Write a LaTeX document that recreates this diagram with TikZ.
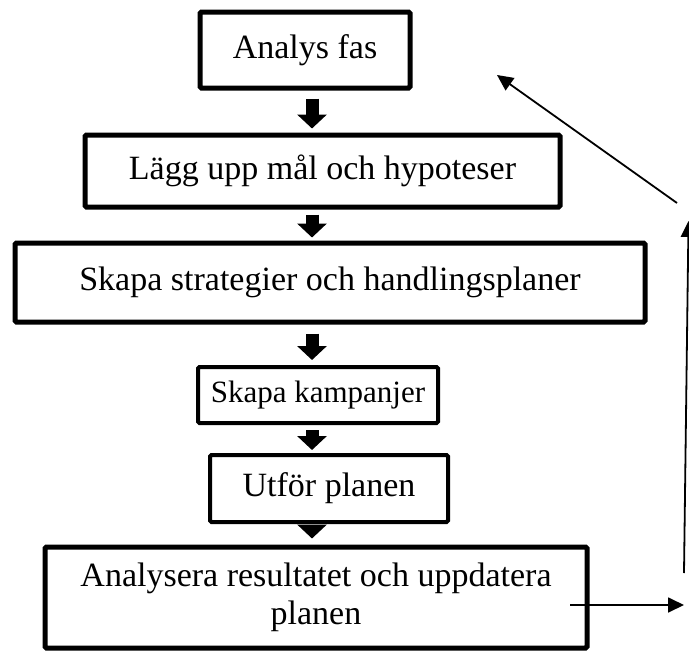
\documentclass[tikz,border=0pt]{standalone}
\usepackage{fontspec}
\setmainfont{Liberation Serif}
\usetikzlibrary{arrows.meta,calc}
\begin{document}
\begin{tikzpicture}[x=1pt,y=-1pt,
  box/.style={draw=black,line width=5pt,rounded corners=1.5pt,inner sep=0pt,align=center,
    font=\fontsize{34}{38}\selectfont},
  blockarrow/.style={line width=13pt,-{Triangle[length=14pt,width=29pt]}},
  thinarrow/.style={line width=1.8pt,-{Triangle[length=16pt,width=15pt]}}]
\useasboundingbox (0,0) rectangle (689,651);
\node[box,minimum width=210pt,minimum height=76pt] (b1) at (305,50) {Analys fas};
\node[box,minimum width=475pt,minimum height=72pt] (b2) at (322.5,171) {Lägg upp mål och hypoteser};
\node[box,minimum width=630pt,minimum height=79pt] (b3) at (330,282.5) {Skapa strategier och handlingsplaner};
\node[box,line width=4pt,minimum width=240pt,minimum height=56pt,font=\fontsize{31}{36}\selectfont] (b4) at (318,395) {Skapa kampanjer};
\node[box,line width=4pt,minimum width=238pt,minimum height=67pt] (b5) at (329,488.5) {Utför planen};
\node[box,minimum width=542pt,minimum height=101pt] (b6) at (316,597.5) {Analysera resultatet och uppdatera\\planen};
\coordinate (ax) at (312,0);
\draw[blockarrow,shorten <=8pt,shorten >=4pt] (ax |- b1.south) -- (ax |- b2.north);
\draw[blockarrow,shorten <=5pt,shorten >=3pt] (ax |- b2.south) -- (ax |- b3.north);
\draw[blockarrow,shorten <=9pt,shorten >=5pt] (ax |- b3.south) -- (ax |- b4.north);
\draw[blockarrow,shorten <=5pt,shorten >=3pt] (ax |- b4.south) -- (ax |- b5.north);
\draw[blockarrow,shorten <=1pt,shorten >=6pt] (ax |- b5.south) -- (ax |- b6.north);
\coordinate (h0) at (570,605);
\coordinate (h1) at (684,605);
\coordinate (v0) at (684,573);
\coordinate (v1) at (688.5,221);
\coordinate (d0) at (677,203);
\coordinate (d1) at (497,75);
\draw[thinarrow] (h0) -- (h1);
\draw[thinarrow] (v0) -- (v1);
\draw[thinarrow] (d0) -- (d1);
\end{tikzpicture}
\end{document}
